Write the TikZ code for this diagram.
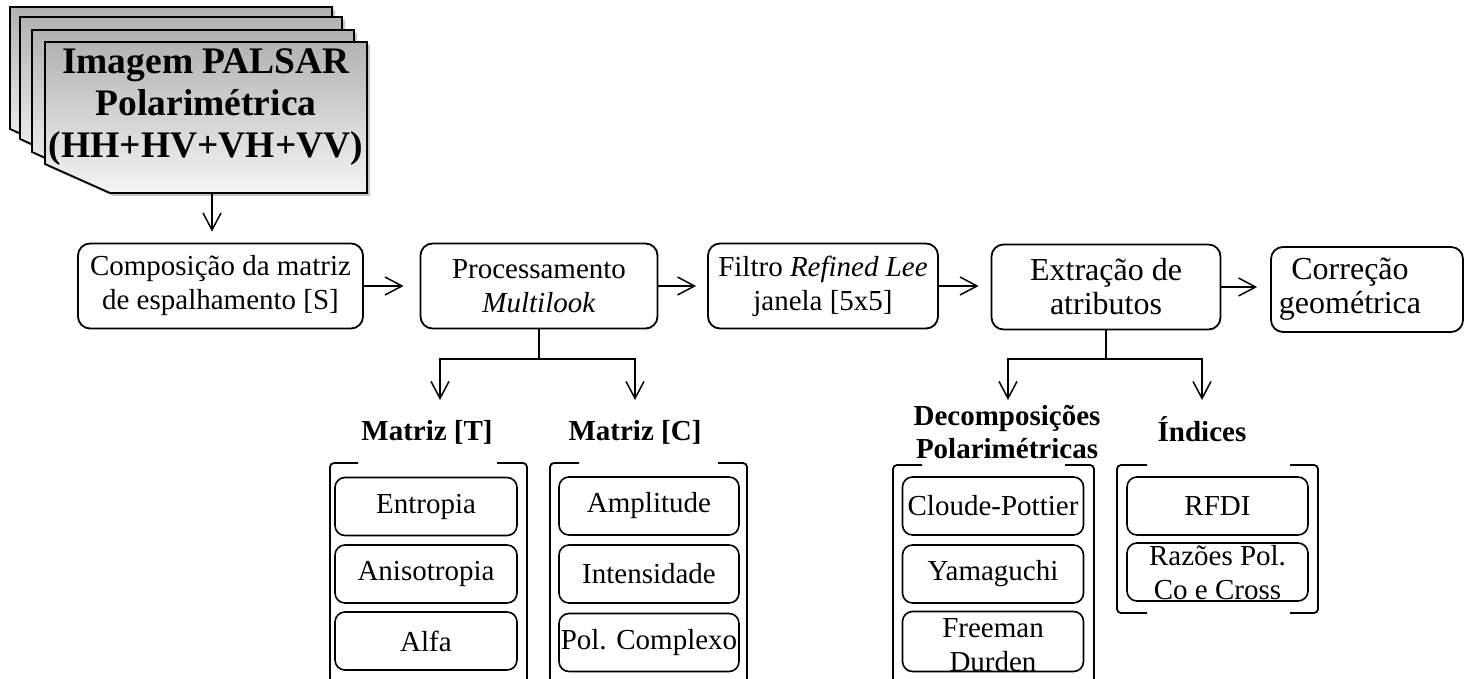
\documentclass[tikz,border=0pt]{standalone}
\usepackage{fontspec}
\setmainfont{Liberation Serif}
\usetikzlibrary{arrows.meta,shadows}

\begin{document}
\begin{tikzpicture} [x=1pt,y=-1pt,font=\fontsize{29}{34}\selectfont,
		box/.style={draw,line width=1.8pt,rounded corners=12pt,align=center,inner sep=0pt,minimum height=85pt},
		bigtext/.style={font=\fontsize{32}{34}\selectfont},
		item/.style={draw,line width=1.6pt,rounded corners=10pt,align=center,inner sep=0pt,minimum height=58pt},
		title/.style={font=\fontsize{29}{33}\selectfont\bfseries,align=center},
		doc/.style={font=\fontsize{37.5}{42}\selectfont\bfseries,align=center},
		sheet/.style={draw,line width=1.8pt,top color=gray!60,bottom color=gray!8,
			drop shadow={shadow xshift=3pt,shadow yshift=-3pt,opacity=.45}},
		arr/.style={line width=1.5pt,-{Straight Barb[length=17pt,width=18pt]}},
		brk/.style={line width=1.8pt,rounded corners=4pt}]
		\fill [white] (0,0) rectangle (1474,679);
		\useasboundingbox (0,0) rectangle (1474,679);
		% pilha de imagens
		\draw [sheet] (10,7) -- (332,7) -- (332,158) -- (75,158) -- (10,129) -- cycle;
		\draw [sheet] (20,17) -- (342,17) -- (342,168) -- (85,168) -- (20,139) -- cycle;
		\draw [sheet] (32,30) -- (354,30) -- (354,181) -- (97,181) -- (32,152) -- cycle;
		\draw [sheet] (45,42) -- (367,42) -- (367,193) -- (110,193) -- (45,164) -- cycle;
		\node [doc] (palsar) at (206,107) {Imagem PALSAR\\Polarimétrica\\(HH+HV+VH+VV)};
		\coordinate (docbot) at (212,193);
		% etapas
		\node [box,minimum width=285pt] (compS) at (220.5,286) {Composição da matriz\\de espalhamento [S]};
		\node [box,minimum width=237pt] (proc) at (539,286) {Processamento\\\textit{Multilook}};
		\node [box,minimum width=230pt] (filtro) at (823,286) {Filtro \textit{Refined Lee}\\janela [5x5]};
		\node [box,bigtext,minimum width=229pt] (extr) at (1106,287) {Extração de\\atributos};
		\node [box,bigtext,minimum width=192pt] (corr) at (1367,289.5) {Correção\hspace*{34pt}\\geométrica\hspace*{34pt}};
		\draw [arr,shorten >=11pt] (docbot) -- (docbot |- compS.north);
		\draw [arr,shorten >=16pt] (compS.east) -- (compS.east -| proc.west);
		\draw [arr,shorten >=11pt] (proc.east) -- (proc.east -| filtro.west);
		\draw [arr,shorten >=12pt] (filtro.east) -- (filtro.east -| extr.west);
		\draw [arr,shorten >=13pt] (extr.east) -- (extr.east -| corr.west);
		% ramos
		\coordinate (tT) at (440,400);
		\coordinate (tC) at (635,400);
		\coordinate (tD) at (1008,400);
		\coordinate (tI) at (1202,400);
		\draw [arr] (proc.south) -- ++(0,29.5) -| (tT);
		\draw [arr] (proc.south) -- ++(0,29.5) -| (tC);
		\draw [arr] (extr.south) -- ++(0,28.5) -| (tD);
		\draw [arr] (extr.south) -- ++(0,28.5) -| (tI);
		\node [title] (titT) at (427,432) {Matriz [T]};
		\node [title] (titC) at (635,432) {Matriz [C]};
		\node [title] (titD) at (1007,432) {Decomposições\\Polarimétricas};
		\node [title] (titI) at (1202,429) {Índices};
		% colchetes
		\draw [brk] (358,463) -- (330,463) -- (330,685) -- (358,685);
		\draw [brk] (497,463) -- (527,463) -- (527,685) -- (497,685);
		\draw [brk] (579,463) -- (550,463) -- (550,685) -- (579,685);
		\draw [brk] (718,463) -- (747,463) -- (747,685) -- (718,685);
		\draw [brk] (922,465) -- (893,465) -- (893,690) -- (922,690);
		\draw [brk] (1065,465) -- (1094,465) -- (1094,690) -- (1065,690);
		\draw [brk] (1147,465) -- (1117,465) -- (1117,613) -- (1147,613);
		\draw [brk] (1290,465) -- (1318,465) -- (1318,613) -- (1290,613);
		% atributos
		\node [item,minimum width=182pt] (entropia) at (426,506.5) {Entropia};
		\node [item,minimum width=182pt] (aniso) at (426,574) {Anisotropia};
		\node [item,minimum width=182pt] (alfa) at (426,641) {Alfa};
		\node [item,minimum width=180pt] (ampl) at (649,506) {Amplitude};
		\node [item,minimum width=180pt] (intens) at (649,574) {Intensidade};
		\node [item,minimum width=180pt] (polc) at (649,642.5) {Pol. Complexo};
		\node [item,minimum width=181pt] (cloude) at (993,506) {Cloude-Pottier};
		\node [item,minimum width=181pt] (yama) at (993,574) {Yamaguchi};
		\node [item,minimum width=181pt,text height=60pt,text depth=-3pt] (freeman) at (993,641.5) {Freeman\\Durden};
		\node [item,minimum width=181pt,text height=54pt,text depth=0pt] (razoes) at (1217.5,572) {Razões Pol.\\Co e Cross};
		\node [item,minimum width=181pt] (rfdi) at (1217.5,506) {RFDI};
	\end{tikzpicture}
\end{document}
